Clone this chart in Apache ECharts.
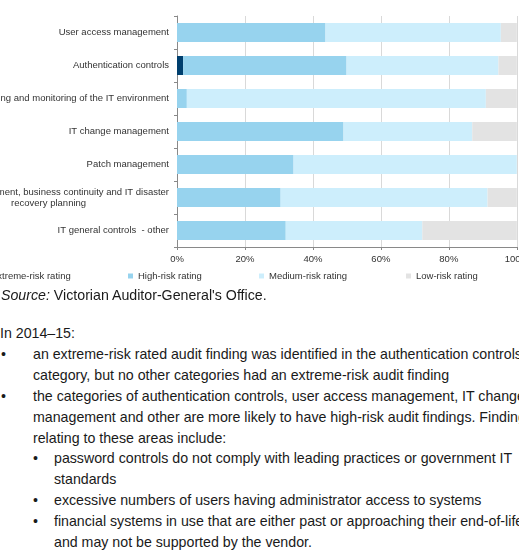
<!DOCTYPE html>
<html>
<head>
<meta charset="utf-8">
<script src="https://cdn.jsdelivr.net/npm/echarts@6/dist/echarts.min.js"></script>
<style>
html,body{margin:0;padding:0;width:519px;height:550px;overflow:hidden;background:#fff;}
#chart{position:absolute;left:0;top:0;width:519px;height:290px;}
.ln{position:absolute;white-space:nowrap;font-family:"Liberation Sans",Arial,sans-serif;font-size:14.2px;line-height:21px;color:#1a1a1a;}
</style>
</head>
<body>
<div id="chart"></div>
<div id="text"></div>
<script>
const categories = [
  "User access management",
  "Authentication controls",
  "Logging and monitoring of the IT environment",
  "IT change management",
  "Patch management",
  "Backup management, business continuity and IT disaster recovery planning",
  "IT general controls  - other"
];
const seriesNames = ["Extreme-risk rating", "High-risk rating", "Medium-risk rating", "Low-risk rating"];
const extremeRisk = [0, 1.8, 0, 0, 0, 0, 0];
const highRisk = [43.7, 48.1, 2.9, 49.0, 34.3, 30.5, 32.0];
const mediumRisk = [51.6, 44.7, 88.0, 37.9, 65.7, 60.9, 40.2];
const lowRisk = [4.7, 5.4, 9.1, 13.1, 0, 8.6, 27.8];
const xTicks = [0, 20, 40, 60, 80, 100];

const sourceLine = ["Source:", " Victorian Auditor-General's Office."];
const bodyLines = [
  {lvl: 0, t: "In 2014\u201315:"},
  {lvl: 1, b: true, t: "an extreme-risk rated audit finding was identified in the authentication controls"},
  {lvl: 1, t: "category, but no other categories had an extreme-risk audit finding"},
  {lvl: 1, b: true, t: "the categories of authentication controls, user access management, IT change"},
  {lvl: 1, t: "management and other are more likely to have high-risk audit findings. Findings"},
  {lvl: 1, t: "relating to these areas include:"},
  {lvl: 2, b: true, t: "password controls do not comply with leading practices or government IT"},
  {lvl: 2, t: "standards"},
  {lvl: 2, b: true, t: "excessive numbers of users having administrator access to systems"},
  {lvl: 2, b: true, t: "financial systems in use that are either past or approaching their end-of-life"},
  {lvl: 2, t: "and may not be supported by the vendor."}
];

const colors = ["#003f6e", "#97d3ee", "#cdeefc", "#e3e3e3"];
const values = [extremeRisk, highRisk, mediumRisk, lowRisk];
const font = '"Liberation Sans", Arial, sans-serif';

const chart = echarts.init(document.getElementById('chart'));
const legendLefts = [-19, 128, 259, 406];
chart.setOption({
  animation: false,
  textStyle: {fontFamily: font},
  grid: {left: 177, right: 2.2, top: 16, bottom: 43, containLabel: false, outerBoundsMode: 'none'},
  legend: seriesNames.map((n, i) => ({
    data: [n], left: legendLefts[i], top: 271, itemWidth: 5, itemHeight: 5,
    icon: 'rect', selectedMode: false, padding: 0,
    textStyle: {fontSize: 9.5, color: '#333', fontFamily: font}
  })),
  xAxis: {
    type: 'value', min: 0, max: 100, interval: 20,
    axisLine: {show: true, lineStyle: {color: '#898989'}},
    axisTick: {show: true, length: 3, lineStyle: {color: '#898989'}},
    splitLine: {show: true, lineStyle: {color: '#d9d9d9'}},
    axisLabel: {formatter: v => v + '%', fontSize: 9.5, color: '#333', margin: 7, fontFamily: font,
      customValues: xTicks}
  },
  yAxis: {
    type: 'category', data: categories, inverse: true,
    axisLine: {show: true, lineStyle: {color: '#898989'}},
    axisTick: {show: true, length: 3, lineStyle: {color: '#898989'}},
    axisLabel: {
      fontSize: 9.5, color: '#333', margin: 8, fontFamily: font, lineHeight: 11,
      formatter: function (v) {
        if (v.indexOf('Backup') === 0) {
          return '{a|Backup management, business continuity and IT disaster}\n{b|recovery planning}';
        }
        return v;
      },
      rich: {
        a: {fontSize: 9.5, color: '#333', fontFamily: font, lineHeight: 11},
        b: {fontSize: 9.5, color: '#333', fontFamily: font, lineHeight: 11, align: 'center'}
      }
    }
  },
  series: seriesNames.map((n, i) => ({
    name: n, type: 'bar', stack: 'total', data: values[i], barWidth: 19,
    itemStyle: {color: colors[i]}, emphasis: {disabled: true}
  }))
});

// text below the chart
const tc = document.getElementById('text');
function addLine(html, x, cy) {
  const d = document.createElement('div');
  d.className = 'ln';
  d.style.left = x + 'px';
  d.style.top = (cy - 11) + 'px';
  d.innerHTML = html;
  tc.appendChild(d);
}
addLine('<i>' + sourceLine[0] + '</i>' + sourceLine[1], 1, 296);
const textX = [0, 33, 54];
const bulletX = [0, 1, 33];
bodyLines.forEach((l, k) => {
  const cy = 334 + k * 20.9;
  if (l.b) addLine('\u2022', bulletX[l.lvl], cy);
  addLine(l.t, textX[l.lvl], cy);
});
</script>
</body>
</html>
